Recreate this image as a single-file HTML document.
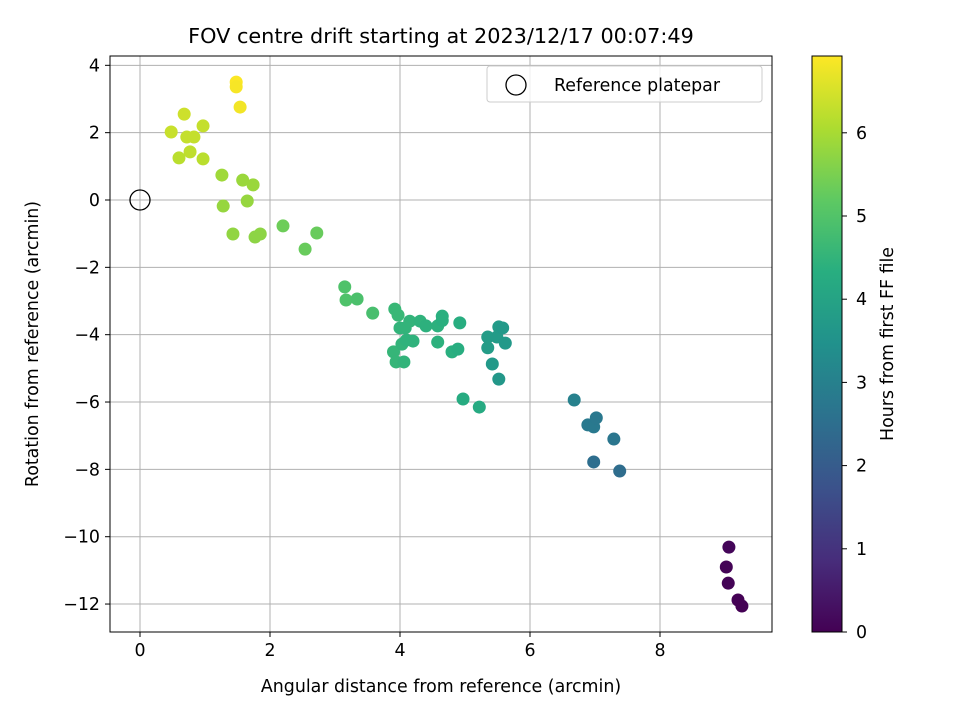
<!DOCTYPE html>
<html><head><meta charset="utf-8"><style>
body{margin:0;background:#fff;font-family:"DejaVu Sans",sans-serif}
</style></head><body>
<svg id="chart" width="960" height="720" xmlns="http://www.w3.org/2000/svg" font-family="DejaVu Sans, sans-serif">
<defs>
<linearGradient id="vir" x1="0" y1="1" x2="0" y2="0">
<stop offset="0" stop-color="#440154"/><stop offset="0.125" stop-color="#472d7b"/><stop offset="0.25" stop-color="#3b528b"/><stop offset="0.375" stop-color="#2c728e"/><stop offset="0.5" stop-color="#21918c"/><stop offset="0.625" stop-color="#28ae80"/><stop offset="0.75" stop-color="#5ec962"/><stop offset="0.875" stop-color="#addc30"/><stop offset="1" stop-color="#fde725"/>
</linearGradient>
</defs>
<text x="441" y="43" font-size="20.8" text-anchor="middle" fill="#000">FOV centre drift starting at 2023/12/17 00:07:49</text>
<g id="grid"></g>
<g id="pts"></g>
<rect x="110" y="56" width="662" height="576" fill="none" stroke="#000" stroke-width="1"/>
<g id="ticks"></g>
<text x="441" y="692" font-size="17.4" text-anchor="middle">Angular distance from reference (arcmin)</text>
<text transform="translate(38,344) rotate(-90)" font-size="17.4" text-anchor="middle">Rotation from reference (arcmin)</text>
<g>
<rect x="487" y="66" width="275" height="36" rx="3" fill="#fff" fill-opacity="0.8" stroke="#ccc"/>
<circle cx="516" cy="85" r="10" fill="none" stroke="#000" stroke-width="1.3"/>
<text x="554" y="91" font-size="17.4">Reference platepar</text>
</g>
<rect x="812" y="56" width="30" height="576" fill="url(#vir)" stroke="#000" stroke-width="1"/>
<g id="cbticks"></g>
<text transform="translate(893,344) rotate(-90)" font-size="17.4" text-anchor="middle">Hours from first FF file</text>
</svg>
<script>
const xs=[1.48,1.48,1.54,0.48,0.68,0.97,0.72,0.83,0.77,0.6,0.97,1.26,1.58,1.74,1.65,1.28,1.43,1.77,1.85,2.2,2.72,2.54,3.15,3.17,3.34,3.58,3.92,3.97,4.0,4.08,4.15,3.9,3.94,4.06,4.03,4.1,4.2,4.31,4.4,4.58,4.65,4.65,4.58,4.8,4.89,4.92,4.97,5.22,5.35,5.35,5.49,5.52,5.58,5.62,5.42,5.52,6.68,6.89,6.98,7.02,7.29,6.98,7.38,9.06,9.02,9.05,9.2,9.26];
const ys=[3.5,3.36,2.76,2.02,2.55,2.2,1.87,1.87,1.43,1.25,1.22,0.74,0.59,0.45,-0.03,-0.18,-1.01,-1.1,-1.01,-0.77,-0.98,-1.46,-2.58,-2.97,-2.94,-3.36,-3.24,-3.42,-3.8,-3.8,-3.6,-4.51,-4.81,-4.81,-4.28,-4.16,-4.19,-3.6,-3.74,-3.74,-3.45,-3.58,-4.22,-4.51,-4.43,-3.65,-5.91,-6.15,-4.07,-4.39,-4.07,-3.77,-3.8,-4.25,-4.87,-5.32,-5.94,-6.68,-6.74,-6.47,-7.1,-7.78,-8.05,-10.31,-10.9,-11.38,-11.88,-12.06];
const hrs=[6.9,6.85,6.8,6.35,6.4,6.3,6.3,6.3,6.25,6.2,6.2,5.9,5.85,5.85,5.8,5.8,5.75,5.7,5.7,5.35,5.3,5.3,4.95,4.95,4.9,4.85,4.6,4.6,4.5,4.5,4.5,4.55,4.55,4.5,4.5,4.45,4.45,4.45,4.4,4.4,4.35,4.35,4.4,4.35,4.3,4.3,4.25,4.2,3.8,3.8,3.75,3.75,3.7,3.7,3.7,3.65,3.0,2.8,2.8,2.75,2.7,2.5,2.45,0.1,0.05,0.05,0.02,0.0];
const xTicks=[0,2,4,6,8], yTicks=[4,2,0,-2,-4,-6,-8,-10,-12], cTicks=[0,1,2,3,4,5,6];
const X=v=>140+v*65, Y=v=>200-v*33.67, C=h=>632-h*83.2;
const stops=[[68,1,84],[71,45,123],[59,82,139],[44,114,142],[33,145,140],[40,174,128],[94,201,98],[173,220,48],[253,231,37]];
function vir(h){let t=Math.max(0,Math.min(1,h/6.92))*8,i=Math.min(7,Math.floor(t)),f=t-i,a=stops[i],b=stops[i+1];return `rgb(${a.map((v,k)=>Math.round(v+(b[k]-v)*f)).join(',')})`;}
const NS="http://www.w3.org/2000/svg";
function mk(p,tag,at){const e=document.createElementNS(NS,tag);for(const k in at)e.setAttribute(k,at[k]);document.getElementById(p).appendChild(e);return e;}
xTicks.forEach(v=>{let l=mk('grid','line',{x1:X(v),x2:X(v),y1:56,y2:632,stroke:'#b0b0b0','stroke-width':1});

mk('ticks','line',{x1:X(v),x2:X(v),y1:632,y2:637,stroke:'#000'});
let s=mk('ticks','text',{x:X(v),y:656,'font-size':17.4,'text-anchor':'middle'});s.textContent=v;
});
yTicks.forEach(v=>{let l=mk('grid','line',{x1:110,x2:772,y1:Y(v),y2:Y(v),stroke:'#b0b0b0','stroke-width':1});

mk('ticks','line',{x1:105,x2:110,y1:Y(v),y2:Y(v),stroke:'#000'});
let s=mk('ticks','text',{x:100,y:Y(v)+6,'font-size':17.4,'text-anchor':'end'});s.textContent=(v<0?'\u2212'+(-v):v);
});
cTicks.forEach(v=>{mk('cbticks','line',{x1:842,x2:847,y1:C(v),y2:C(v),stroke:'#000'});
let s=mk('cbticks','text',{x:856,y:C(v)+6,'font-size':17.4});s.textContent=v;
});
xs.forEach((x,i)=>{let c=mk('pts','circle',{cx:X(x),cy:Y(ys[i]),r:6.5,fill:vir(hrs[i])});
});
let r=mk('pts','circle',{cx:X(0),cy:Y(0),r:10,fill:'none',stroke:'#000','stroke-width':1.3});

</script>
</body></html>
